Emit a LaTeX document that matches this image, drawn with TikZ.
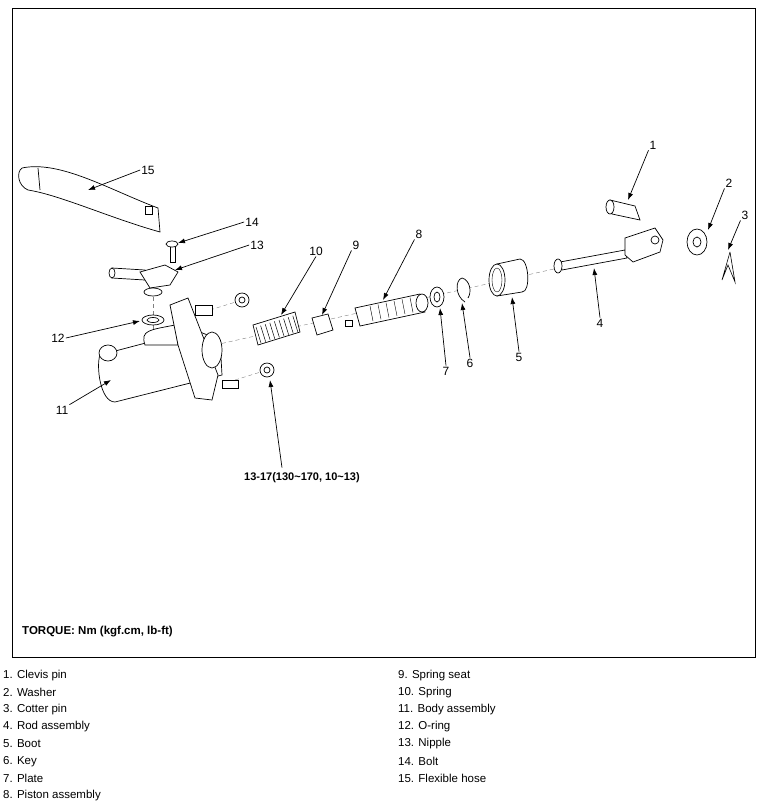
\documentclass[tikz,border=0pt]{standalone}
\usepackage{fontspec}
\setmainfont{Liberation Sans}
\usetikzlibrary{arrows.meta,calc,positioning}
\tikzset{
  part/.style={draw=black, line width=0.7pt, fill=white},
  callout/.style={-{Latex[length=7pt,width=5pt]}, line width=0.7pt},
  num/.style={font=\fontsize{12}{14}\selectfont, inner sep=1pt},
  axisline/.style={dash pattern=on 4pt off 3pt, line width=0.4pt, gray},
  legend/.style={font=\fontsize{11.5}{13}\selectfont, anchor=west, inner sep=0pt}
}
\begin{document}
\begin{tikzpicture}[x=1pt,y=-1pt]
  \useasboundingbox (0,0) rectangle (764,812);
  \draw[line width=0.6pt] (12,8) rectangle (755,657);

  % center line
  \draw[axisline] (215,345) -- (585,262);
  \draw[axisline] (153,290) -- (153,345);
  \draw[axisline] (210,310) -- (242,300);
  \draw[axisline] (235,380) -- (267,370);

  % flexible hose
  \draw[part] (22,168) .. controls (60,160) and (110,190) .. (158,208) -- (160,232)
     .. controls (110,218) and (60,195) .. (28,190) .. controls (18,186) and (16,172) .. (22,168);
  \draw[part] (38,168) -- (40,190);
  \draw[part] (145,206) rectangle (152,214);

  % bolt and nipple
  \draw[part] (170,246) rectangle (175,262);
  \draw[part] (172,244) ellipse (6 and 3);
  \draw[part] (112,268) -- (145,270) -- (145,280) -- (112,278) -- cycle;
  \draw[part] (112,273) ellipse (3 and 5);
  \draw[part] (140,272) -- (165,265) -- (178,272) -- (170,285) -- (150,288) -- cycle;
  \draw[part] (153,292) ellipse (9 and 4);
  \draw[part] (153,320) ellipse (11 and 5);
  \draw[part] (153,320) ellipse (6 and 2.5);

  % body assembly
  \draw[part] (100,355) -- (195,330) -- (220,340) -- (222,375) -- (115,402)
     .. controls (100,402) and (96,365) .. (100,355);
  \draw[part] (108,353) ellipse (9 and 8);
  \draw[part] (145,345) .. controls (140,330) and (150,330) .. (175,325) -- (178,345) -- cycle;
  \draw[part] (170,305) -- (188,298) -- (218,375) -- (212,400) -- (195,398) -- (178,345) -- cycle;
  \draw[part] (212,350) ellipse (10 and 18);
  \draw[part] (195,305) rectangle (212,315);
  \draw[part] (222,380) rectangle (238,388);
  \draw[part] (242,300) circle (7);
  \draw[part] (242,300) circle (3);
  \draw[part] (267,370) circle (7);
  \draw[part] (267,370) circle (3);

  % spring, spring seat, piston
  \draw[part] (253,325) -- (295,312) -- (300,332) -- (258,345) -- cycle;
  \foreach \i in {0,...,8}
    \draw[line width=0.5pt] ($(256,327)+(4.6*\i,-1.4*\i)$) -- ++(5,16);
  \draw[part] (312,318) -- (328,314) -- (333,330) -- (317,335) -- cycle;
  \draw[part] (345,320) rectangle (352,326);
  \draw[part] (355,308) -- (420,294) -- (425,312) -- (360,326) -- cycle;
  \foreach \i in {0,...,5}
    \draw[line width=0.4pt] ($(370,306)+(8*\i,-1.7*\i)$) -- ++(3,15);
  \draw[part] (422,303) ellipse (6 and 9);

  % plate, key, boot
  \draw[part] (437,297) ellipse (7 and 10);
  \draw[part] (437,297) ellipse (3 and 5);
  \draw[part] (465,302) .. controls (455,296) and (455,280) .. (462,278)
     .. controls (470,280) and (472,292) .. (468,298);
  \draw[part] (497,264) -- (520,259) .. controls (529,259) and (531,292) .. (522,292)
     -- (497,296) -- cycle;
  \draw[part] (497,280) ellipse (8 and 16);
  \draw[line width=0.4pt] (497,280) ellipse (5 and 12);

  % rod assembly and clevis
  \draw[part] (560,262) -- (625,250) -- (627,258) -- (562,270) -- cycle;
  \draw[part] (558,266) ellipse (4 and 7);
  \draw[part] (625,238) -- (655,228) -- (663,240) -- (660,252) -- (633,262) -- (625,255) -- cycle;
  \draw[part] (655,240) circle (4);
  \draw[part] (610,200) -- (635,206) -- (640,220) -- (612,214) -- cycle;
  \draw[part] (610,207) ellipse (4 and 7);

  % washer, cotter pin
  \draw[part] (697,242) ellipse (10 and 13);
  \draw[part] (697,242) ellipse (4 and 5);
  \draw[line width=0.6pt] (730,252) -- (722,280) -- (728,265) -- (735,282) -- (730,252);

  % callouts
  \node[num] (n1) at (653,145) {1};
  \node[num] (n2) at (729,183) {2};
  \node[num] (n3) at (745,215) {3};
  \node[num] (n4) at (600,323) {4};
  \node[num] (n5) at (519,357) {5};
  \node[num] (n6) at (470,363) {6};
  \node[num] (n7) at (446,371) {7};
  \node[num] (n8) at (419,234) {8};
  \node[num] (n9) at (356,245) {9};
  \node[num] (n10) at (316,251) {10};
  \node[num] (n11) at (62,410) {11};
  \node[num] (n12) at (58,338) {12};
  \node[num] (n13) at (257,245) {13};
  \node[num] (n14) at (252,222) {14};
  \node[num] (n15) at (148,170) {15};
  \node[num, font=\bfseries\fontsize{11}{13}\selectfont] (tq) at (302,478) {13-17(130\textasciitilde170, 10\textasciitilde13)};

  \coordinate (t1) at (628,200);  \coordinate (t2) at (708,230);
  \coordinate (t3) at (728,250);  \coordinate (t4) at (594,268);
  \coordinate (t5) at (512,297);  \coordinate (t6) at (462,303);
  \coordinate (t7) at (440,308);  \coordinate (t8) at (383,300);
  \coordinate (t9) at (322,315);  \coordinate (t10) at (281,315);
  \coordinate (t11) at (111,380); \coordinate (t12) at (140,321);
  \coordinate (t13) at (175,270); \coordinate (t14) at (178,243);
  \coordinate (t15) at (88,190);  \coordinate (ttq) at (270,380);

  \draw[callout] (n1.south west) -- (t1);
  \draw[callout] (n2.south west) -- (t2);
  \draw[callout] (n3.south west) -- (t3);
  \draw[callout] (n4.north) -- (t4);
  \draw[callout] (n5.north) -- (t5);
  \draw[callout] (n6.north) -- (t6);
  \draw[callout] (n7.north) -- (t7);
  \draw[callout] (n8.south west) -- (t8);
  \draw[callout] (n9.south west) -- (t9);
  \draw[callout] (n10.south) -- (t10);
  \draw[callout] (n11.north east) -- (t11);
  \draw[callout] (n12.east) -- (t12);
  \draw[callout] (n13.west) -- (t13);
  \draw[callout] (n14.west) -- (t14);
  \draw[callout] (n15.west) -- (t15);
  \draw[callout] (tq.north) ++(-20,-4) coordinate (tqs) -- (ttq);

  \node[legend, font=\bfseries\fontsize{11.5}{13}\selectfont] (torque) at (22,632) {TORQUE: Nm (kgf.cm, lb-ft)};

  % legend
  \foreach \txt [count=\i] in {1. Clevis pin, 2. Washer, 3. Cotter pin, 4. Rod assembly,
      5. Boot, 6. Key, 7. Plate, 8. Piston assembly}
    \node[legend] at (3, 658+17.2*\i) {\txt};
  \foreach \txt [count=\i] in {9. Spring seat, 10. Spring, 11. Body assembly, 12. O-ring,
      13. Nipple, 14. Bolt, 15. Flexible hose}
    \node[legend] at (398, 658+17.2*\i) {\txt};
\end{tikzpicture}
\end{document}
